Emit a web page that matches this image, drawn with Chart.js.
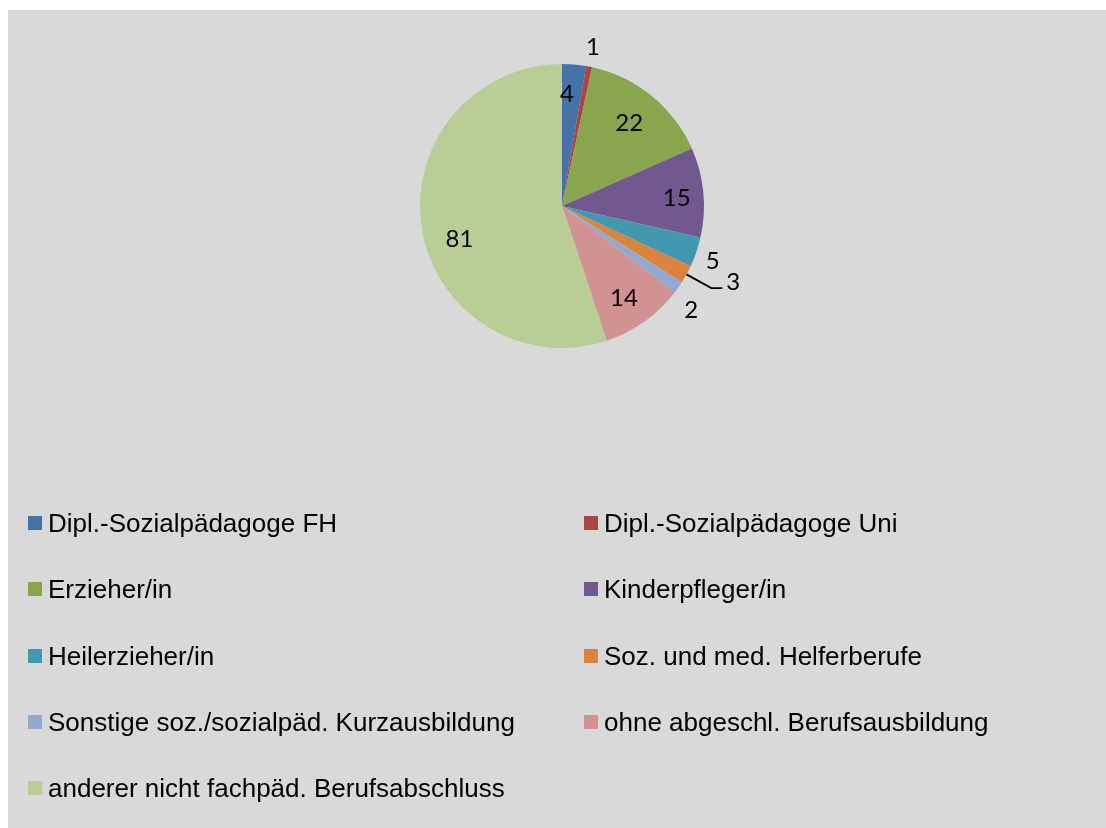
<!DOCTYPE html>
<html>
<head>
<meta charset="utf-8">
<script src="https://cdn.jsdelivr.net/npm/chart.js@4/dist/chart.umd.min.js"></script>
<style>
  html, body { margin: 0; padding: 0; background: #ffffff; }
  #frame { position: absolute; left: 8px; top: 10px; width: 1098px; height: 818px; background: #d9d9d9; }
  #chartBox { position: absolute; left: 0; top: 0; width: 1098px; height: 420px; }
  #legend { position: absolute; left: 0; top: 0; width: 1098px; height: 818px; font-family: "Liberation Sans", Arial, sans-serif; font-size: 26px; color: #000; }
  .item { position: absolute; display: flex; align-items: center; white-space: nowrap; line-height: 30px; }
  .sw { width: 14px; height: 14px; margin-right: 6px; flex: none; }
</style>
</head>
<body>
<div id="frame">
  <div id="chartBox"><canvas id="c"></canvas></div>
  <div id="legend"></div>
</div>
<script>
const categories = [
  "Dipl.-Sozialpädagoge FH",
  "Dipl.-Sozialpädagoge Uni",
  "Erzieher/in",
  "Kinderpfleger/in",
  "Heilerzieher/in",
  "Soz. und med. Helferberufe",
  "Sonstige soz./sozialpäd. Kurzausbildung",
  "ohne abgeschl. Berufsausbildung",
  "anderer nicht fachpäd. Berufsabschluss"
];
const values = [4, 1, 22, 15, 5, 3, 2, 14, 81];
const colors = ["#4572A7", "#AA4643", "#89A54E", "#71588F", "#4198AF", "#DB843D", "#93A9CF", "#D19392", "#B9CD96"];

// label placement styles (radius factor relative to outer radius, angle nudge in degrees, leader flag)
const labelRadius = [0.79, 1.14, 0.75, 0.81, 1.13, 1.2, 1.17, 0.78, 0.76];
const labelNudge  = [-2.3, 0, 0, 1.5, 1, 0, 4, 1.5, -9];
const labelLeader = [false, false, false, false, false, true, false, false, false];

const valueLabels = {
  id: 'valueLabels',
  afterDatasetsDraw(chart) {
    const ctx = chart.ctx;
    const meta = chart.getDatasetMeta(0);
    ctx.save();
    ctx.font = '24px Lato, "Open Sans", sans-serif';
    ctx.fillStyle = '#000';
    ctx.textAlign = 'center';
    ctx.textBaseline = 'middle';
    meta.data.forEach((arc, i) => {
      const mid = (arc.startAngle + arc.endAngle) / 2 + labelNudge[i] * Math.PI / 180;
      const R = arc.outerRadius;
      const text = String(chart.data.datasets[0].data[i]);
      if (labelLeader[i]) {
        const x0 = arc.x + Math.cos(mid) * R;
        const y0 = arc.y + Math.sin(mid) * R;
        const x1 = arc.x + Math.cos(mid) * R * labelRadius[i];
        const y1 = arc.y + Math.sin(mid) * R * labelRadius[i];
        ctx.beginPath();
        ctx.strokeStyle = '#000';
        ctx.lineWidth = 1.8;
        ctx.moveTo(x0, y0);
        ctx.lineTo(x1, y1);
        ctx.lineTo(x1 + 11, y1);
        ctx.stroke();
        ctx.textAlign = 'left';
        ctx.fillText(text, x1 + 15, y1 - 6);
        ctx.textAlign = 'center';
      } else {
        const x = arc.x + Math.cos(mid) * R * labelRadius[i];
        const y = arc.y + Math.sin(mid) * R * labelRadius[i];
        ctx.fillText(text, x, y);
      }
    });
    ctx.restore();
  }
};

new Chart(document.getElementById('c'), {
  type: 'pie',
  data: {
    labels: categories,
    datasets: [{ data: values, backgroundColor: colors, borderWidth: 0 }]
  },
  options: {
    responsive: true,
    maintainAspectRatio: false,
    animation: false,
    layout: { padding: { left: 412, right: 402, top: 54, bottom: 82 } },
    plugins: { legend: { display: false }, tooltip: { enabled: false } }
  },
  plugins: [valueLabels]
});

// two-column legend
const legend = document.getElementById('legend');
const colX = [20, 576];
const rowY0 = 498, rowStep = 66.3;
categories.forEach((name, i) => {
  const row = Math.floor(i / 2), col = i % 2;
  const div = document.createElement('div');
  div.className = 'item';
  div.style.left = colX[col] + 'px';
  div.style.top = (rowY0 + row * rowStep) + 'px';
  const sw = document.createElement('span');
  sw.className = 'sw';
  sw.style.background = colors[i];
  const t = document.createElement('span');
  t.textContent = name;
  div.appendChild(sw);
  div.appendChild(t);
  legend.appendChild(div);
});
</script>
</body>
</html>
